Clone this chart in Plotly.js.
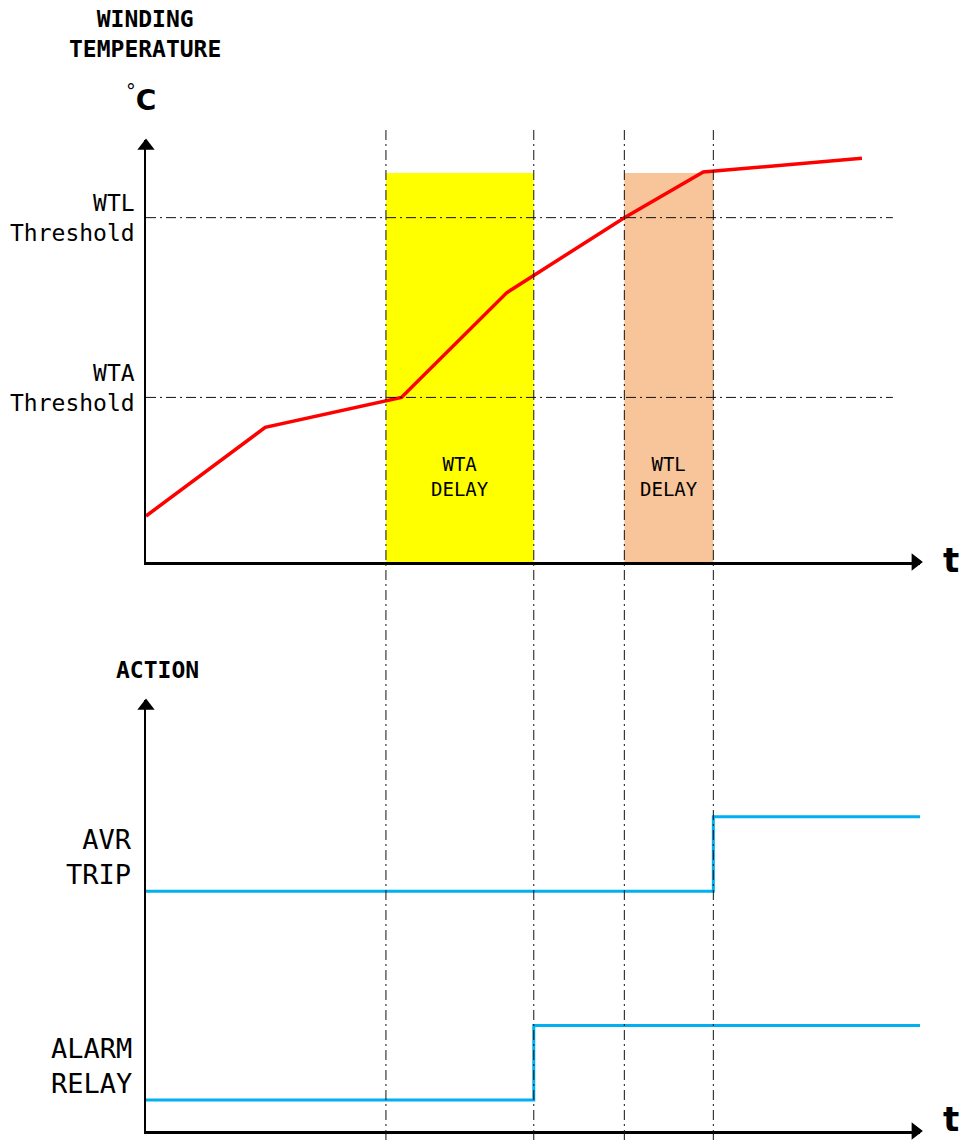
<!DOCTYPE html>
<html>
<head>
<meta charset="utf-8">
<script src="https://cdn.plot.ly/plotly-3.0.1.min.js"></script>
<style>html,body{margin:0;padding:0;background:#fff;}#chart{width:964px;height:1140px;}</style>
</head>
<body>
<div id="chart"></div>
<script>
// ---- data (time in arbitrary units, levels in arbitrary units) ----
const tempTime  = [0, 15.4, 33.0, 46.6, 61.8, 72.0, 92.5];
const tempValue = [10.9, 31.9, 39.0, 63.8, 81.6, 92.4, 95.7];
const thresholdNames  = ["WTA<br>Threshold", "WTL<br>Threshold"];
const thresholdValues = [39.0, 81.6];
const eventTimes = [31.0, 50.1, 61.8, 73.3];
const delayNames  = ["WTA<br>DELAY", "WTL<br>DELAY"];
const delayStart  = [31.0, 61.8];
const delayEnd    = [50.1, 73.3];
const delayTop    = [92.2, 92.2];
const delayColors = ["#ffff00", "#f8c59b"];
const avrTime   = [0, 73.3, 73.3, 100.3];
const avrLevel  = [55.6, 55.6, 72.9, 72.9];
const alarmTime  = [0, 50.1, 50.1, 100.3];
const alarmLevel = [7.2, 7.2, 24.5, 24.5];
const actionNames  = ["AVR<br>TRIP", "ALARM<br>RELAY"];
const actionLevels = [55.6, 7.2];
const axisMax = 100;

// ---- layout helpers (pixel -> paper) ----
const W = 964, H = 1140;
const px = x => x / W;
const py = y => 1 - y / H;
const MONO = "DejaVu Sans Mono";

const traces = [
  {x: tempTime, y: tempValue, xaxis: 'x', yaxis: 'y', mode: 'lines',
   line: {color: '#ff0000', width: 3.5}, hoverinfo: 'skip'},
  {x: avrTime, y: avrLevel, xaxis: 'x2', yaxis: 'y2', mode: 'lines',
   line: {color: '#00b0f0', width: 3}, hoverinfo: 'skip', cliponaxis: false},
  {x: alarmTime, y: alarmLevel, xaxis: 'x2', yaxis: 'y2', mode: 'lines',
   line: {color: '#00b0f0', width: 3}, hoverinfo: 'skip', cliponaxis: false}
];
// axis arrowheads
[['x', 'y'], ['x2', 'y2']].forEach(([xa, ya]) => {
  traces.push({x: [axisMax - 0.6], y: [0], xaxis: xa, yaxis: ya, mode: 'markers', cliponaxis: false,
    marker: {symbol: 'triangle-right', size: 15, color: '#000'}, hoverinfo: 'skip'});
  traces.push({x: [0], y: [axisMax - 1.4], xaxis: xa, yaxis: ya, mode: 'markers', cliponaxis: false,
    marker: {symbol: 'triangle-up', size: 15, color: '#000'}, hoverinfo: 'skip'});
});

const shapes = [];
// delay windows
delayStart.forEach((s, i) => {
  shapes.push({type: 'rect', xref: 'x', yref: 'y', x0: s, x1: delayEnd[i], y0: 0, y1: delayTop[i],
    fillcolor: delayColors[i], line: {width: 0}, layer: 'below'});
});
// threshold lines
thresholdValues.forEach(v => {
  shapes.push({type: 'line', xref: 'x', yref: 'y', x0: 0, x1: 96.5, y0: v, y1: v,
    line: {color: '#111', width: 1, dash: '10px,4px,2px,4px'}});
});
// event lines across both panels
eventTimes.forEach(t => {
  shapes.push({type: 'line', xref: 'x', yref: 'paper', x0: t, x1: t, y0: 0, y1: py(128),
    line: {color: '#111', width: 1, dash: '10px,4px,2px,4px'}});
});

const annotations = [];
// titles
annotations.push({xref: 'paper', yref: 'paper', x: px(145), y: py(34), text: '<b>WINDING<br>TEMPERATURE</b>',
  showarrow: false, xanchor: 'center', yanchor: 'middle', font: {family: MONO, size: 23, color: '#000'}});
annotations.push({xref: 'paper', yref: 'paper', x: px(141), y: py(98), text: '<sup>°</sup><b>C</b>',
  showarrow: false, xanchor: 'center', yanchor: 'middle', font: {family: 'DejaVu Sans', size: 28, color: '#000'}});
annotations.push({xref: 'paper', yref: 'paper', x: px(157), y: py(670), text: '<b>ACTION</b>',
  showarrow: false, xanchor: 'center', yanchor: 'middle', font: {family: MONO, size: 23, color: '#000'}});
[560, 1119].forEach(y => annotations.push({xref: 'paper', yref: 'paper', x: px(951), y: py(y), text: '<b>t</b>',
  showarrow: false, xanchor: 'center', yanchor: 'middle', font: {family: 'DejaVu Sans', size: 34, color: '#000'}}));

// threshold labels
const thrShift = [9, 0];
thresholdNames.forEach((n, i) => annotations.push({xref: 'paper', yref: 'y', x: px(137), y: thresholdValues[i],
  yshift: thrShift[i], text: n, align: 'right', showarrow: false, xanchor: 'right', yanchor: 'middle',
  font: {family: MONO, size: 23, color: '#000'}}));
// delay labels
delayNames.forEach((n, i) => annotations.push({xref: 'x', yref: 'y', x: (delayStart[i] + delayEnd[i]) / 2, y: 20.3,
  text: n, align: 'center', showarrow: false, xanchor: 'center', yanchor: 'middle',
  font: {family: MONO, size: 19, color: '#000'}}));
// action labels
actionNames.forEach((n, i) => annotations.push({xref: 'paper', yref: 'y2', x: px(134), y: actionLevels[i],
  yshift: 34, text: n, align: 'right', showarrow: false, xanchor: 'right', yanchor: 'middle',
  font: {family: MONO, size: 27, color: '#000'}}));

const axisCommon = {showgrid: false, zeroline: false, showline: true, linecolor: '#000', linewidth: 2.5,
  showticklabels: false, ticks: '', fixedrange: true};

const layout = {
  width: W, height: H,
  margin: {l: 0, r: 0, t: 0, b: 0},
  paper_bgcolor: '#fff', plot_bgcolor: 'rgba(0,0,0,0)',
  showlegend: false,
  xaxis:  Object.assign({}, axisCommon, {domain: [px(146), px(920)], range: [0, axisMax], anchor: 'y'}),
  yaxis:  Object.assign({}, axisCommon, {domain: [py(562), py(140)], range: [0, axisMax], anchor: 'x'}),
  xaxis2: Object.assign({}, axisCommon, {domain: [px(146), px(920)], range: [0, axisMax], anchor: 'y2'}),
  yaxis2: Object.assign({}, axisCommon, {domain: [py(1131), py(700)], range: [0, axisMax], anchor: 'x2'}),
  shapes: shapes,
  annotations: annotations
};

Plotly.newPlot('chart', traces, layout, {staticPlot: true, displayModeBar: false});
</script>
</body>
</html>
